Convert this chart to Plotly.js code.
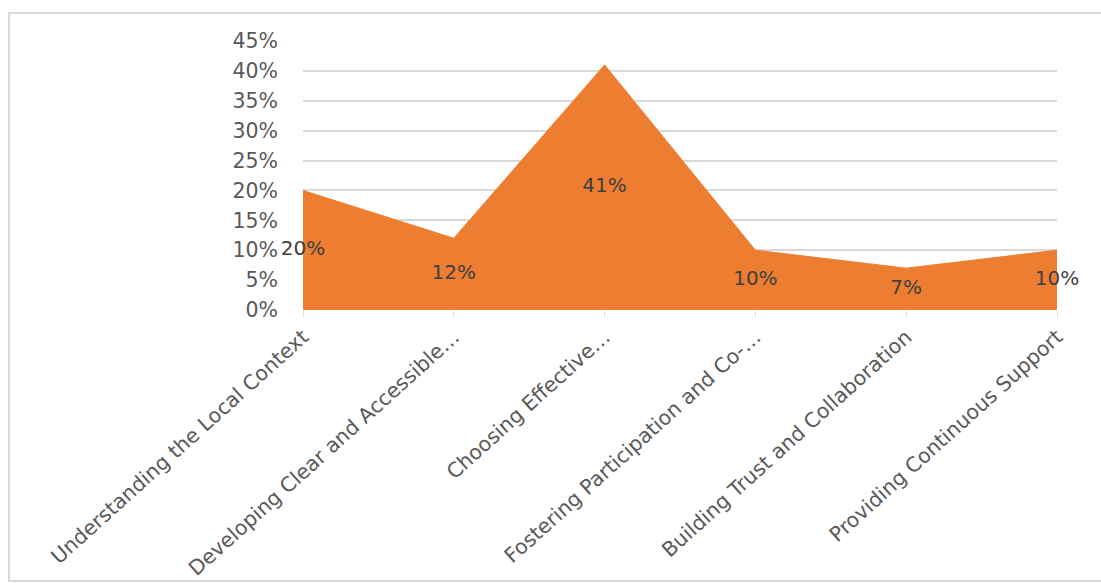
<!DOCTYPE html>
<html>
<head>
<meta charset="utf-8">
<script src="https://cdn.plot.ly/plotly-3.0.1.min.js"></script>
<style>
html,body{margin:0;padding:0;background:#fff;overflow:hidden;}
#frame{position:absolute;left:8px;top:12px;width:1093px;height:570px;border:2px solid #d9d9d9;border-right:none;box-sizing:border-box;}
#chart{position:absolute;left:0;top:0;width:1101px;height:583px;}
</style>
</head>
<body>
<div id="frame"></div>
<div id="chart"></div>
<script>
const categories = [
  "Understanding the Local Context",
  "Developing Clear and Accessible\u2026",
  "Choosing Effective\u2026",
  "Fostering Participation and Co-\u2026",
  "Building Trust and Collaboration",
  "Providing Continuous Support"
];
const values = [0.20, 0.12, 0.41, 0.10, 0.07, 0.10];
const labels = ["20%", "12%", "41%", "10%", "7%", "10%"];
const yTicks = [0, 0.05, 0.10, 0.15, 0.20, 0.25, 0.30, 0.35, 0.40, 0.45];
const yTickText = ["0%", "5%", "10%", "15%", "20%", "25%", "30%", "35%", "40%", "45%"];

const xs = categories.map((c, i) => i);
const area = {
  x: xs, y: values, type: 'scatter', mode: 'lines',
  fill: 'tozeroy', fillcolor: '#ED7D31',
  line: {color: '#ED7D31', width: 1},
  hoverinfo: 'skip', showlegend: false
};
const text = {
  x: xs, y: values.map(v => v / 2), type: 'scatter', mode: 'text',
  text: labels, textposition: 'middle center',
  textfont: {family: 'DejaVu Sans', size: 20, color: '#404040'},
  hoverinfo: 'skip', showlegend: false, cliponaxis: false
};
const layout = {
  width: 1101, height: 583,
  margin: {l: 303, r: 44, t: 41, b: 273},
  paper_bgcolor: 'rgba(0,0,0,0)', plot_bgcolor: 'rgba(0,0,0,0)',
  showlegend: false,
  xaxis: {
    range: [0, 5], tickvals: xs, ticktext: categories,
    tickangle: -42, ticks: 'outside', ticklen: 6, tickcolor: '#d9d9d9',
    showgrid: false, zeroline: false, showline: false,
    tickfont: {family: 'DejaVu Sans', size: 20.5, color: '#595959'},
    automargin: false
  },
  yaxis: {
    range: [0, 0.45], tickvals: yTicks, ticktext: yTickText,
    showgrid: true, gridcolor: '#d9d9d9', gridwidth: 2,
    zeroline: false, showline: false, ticks: '', ticklen: 0,
    ticklabelstandoff: 24,
    tickfont: {family: 'DejaVu Sans', size: 20.5, color: '#595959'},
    automargin: false
  }
};
Plotly.newPlot('chart', [area, text], layout, {displayModeBar: false, staticPlot: true});
</script>
</body>
</html>
